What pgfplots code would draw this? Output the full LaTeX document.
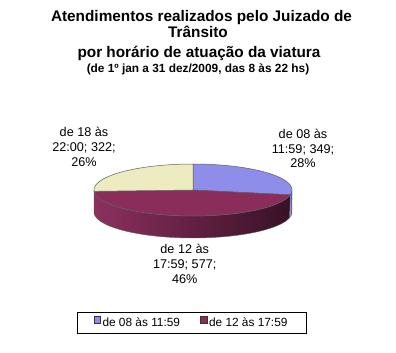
\documentclass[border=0pt]{standalone}
\usepackage{pgfplots}
\pgfplotsset{compat=1.18}
\usepackage{pgfplotstable}
\usepackage{fontspec}
\setmainfont{Liberation Sans}

\definecolor{cblue}{RGB}{142,142,234}
\definecolor{cblueside}{RGB}{100,100,175}
\definecolor{cmar}{RGB}{139,45,91}
\definecolor{cmarL}{RGB}{141,48,94}
\definecolor{cmarM}{RGB}{112,38,74}
\definecolor{cmarR}{RGB}{55,17,38}
\definecolor{cyel}{RGB}{236,236,192}
\definecolor{cyelside}{RGB}{190,190,150}
\definecolor{edge}{RGB}{95,95,95}

\pgfplotstableread{
label value
A 349
B 577
C 322
}\piedata
\pgfplotstablegetelem{0}{value}\of\piedata \let\vA\pgfplotsretval
\pgfplotstablegetelem{1}{value}\of\piedata \let\vB\pgfplotsretval
\pgfplotstablegetelem{2}{value}\of\piedata \let\vC\pgfplotsretval
\pgfmathsetmacro\tot{\vA+\vB+\vC}
\pgfmathsetmacro\aB{90-360*(\vA/\tot)}
\pgfmathsetmacro\aC{\aB-360*(\vB/\tot)}

% pie geometry (in px of the reference)
\def\cx{193}\def\cy{163}\def\rx{99}\def\ry{26}\def\dep{22}

\newcommand\sidewall[3]{%
\addplot[forget plot,#3, domain=0:2, samples=161, variable=\t]
 ({\cx+\rx*cos((#1)+((#2)-(#1))*min(\t,2-\t))},
  {\cy+\ry*sin((#1)+((#2)-(#1))*min(\t,2-\t)) - (\t>1)*\dep});
}
\newcommand\slice[3]{%
\addplot[forget plot,#3, domain=#1:#2, samples=90, variable=\t]
 ({\cx+\rx*cos(\t)},{\cy+\ry*sin(\t)}) -- (axis cs:\cx,\cy) -- cycle;
}

\begin{document}
\begin{tikzpicture}
\begin{axis}[x=1bp,y=1bp,xmin=0,xmax=396,ymin=0,ymax=353,
  hide axis, scale only axis, clip=false,
  legend columns=2,
  legend style={at={(axis cs:191.5,30)}, anchor=center, draw=black,
    line width=0.8bp, font=\fontsize{11.9}{13}\selectfont,
    inner xsep=16.5bp, inner ysep=3bp,
    /tikz/every even column/.append style={column sep=18bp}},
  legend cell align=left]
% side walls
\sidewall{-180}{\aC}{fill=cyelside, draw=edge, line width=0.4bp}
\sidewall{\aC}{\aB}{left color=cmarL, middle color=cmarM, right color=cmarR, draw=edge, line width=0.4bp}
\sidewall{\aB}{0}{fill=cblueside, draw=edge, line width=0.4bp}
% top faces
\slice{\aB}{90}{fill=cblue, draw=edge, line width=0.5bp}
\slice{\aC}{\aB}{fill=cmar, draw=edge, line width=0.5bp}
\slice{-270}{\aC}{fill=cyel, draw=edge, line width=0.5bp}

\addlegendimage{legend image code/.code={\draw[fill=cblue,draw=black!80,line width=0.5bp] (0bp,-0.5bp) rectangle (6.5bp,6.5bp);}}
\addlegendentry{de 08 às 11:59}
\addlegendimage{legend image code/.code={\draw[fill=cmar,draw=black!80,line width=0.5bp] (0bp,-0.5bp) rectangle (6.5bp,6.5bp);}}
\addlegendentry{de 12 às 17:59}

% title
\node[anchor=base, font=\bfseries\fontsize{15.4}{18}\selectfont, inner sep=0] at (axis cs:201.5,331) {Atendimentos realizados pelo Juizado de};
\node[anchor=base, font=\bfseries\fontsize{15.4}{18}\selectfont, inner sep=0] at (axis cs:198,315) {Trânsito};
\node[anchor=base, font=\bfseries\fontsize{15.4}{18}\selectfont, inner sep=0] at (axis cs:199,295) {por horário de atuação da viatura};
\node[anchor=base, font=\bfseries\fontsize{11.9}{13}\selectfont, inner sep=0] at (axis cs:198,280) {(de 1º jan a 31 dez/2009, das 8 às 22 hs)};

% data labels
\begin{scope}[every node/.style={anchor=base, inner sep=0, font=\fontsize{12.7}{14}\selectfont}]
\node at (axis cs:303,214.7) {de 08 às};
\node at (axis cs:303,199.7) {11:59; \vA;};
\node at (axis cs:303,185.7) {28\%};
\node at (axis cs:84,216.3) {de 18 às};
\node at (axis cs:84,201.3) {22:00; \vC;};
\node at (axis cs:84,186.3) {26\%};
\node at (axis cs:184.7,99) {de 12 às};
\node at (axis cs:184.7,84) {17:59; \vB;};
\node at (axis cs:184.7,69) {46\%};
\end{scope}
\end{axis}
\path (0,0) rectangle (396bp,353bp);
\end{tikzpicture}
\end{document}
